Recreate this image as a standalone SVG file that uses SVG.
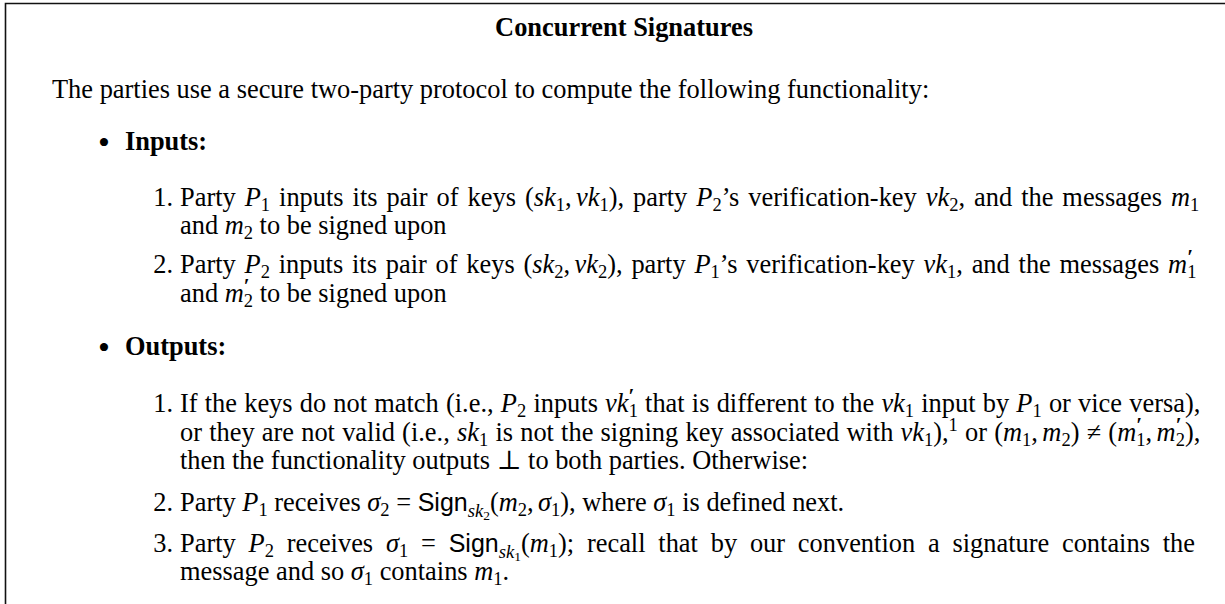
<svg xmlns="http://www.w3.org/2000/svg" width="1225" height="604" viewBox="0 0 1225 604">
  <style>
    text { font-family: "Liberation Serif", "DejaVu Serif", serif; font-size: 26.4px; fill: #000; }
    .b { font-weight: bold; }
    .i { font-style: italic; }
    .s { font-size: 18.5px; }
    .ss { font-size: 13.5px; }
    .pr { font-size: 21px; font-weight: bold; }
    .dot { font-size: 34px; }
    .sf { font-family: "Liberation Sans", "DejaVu Sans", sans-serif; font-size: 25px; }
    .frame { fill: none; stroke: #111; stroke-width: 1.6; }
  </style>
  <rect width="1225" height="604" fill="#fff"/>

  <!-- open frame: top rule and left rule only -->
  <path class="frame" d="M5.5,604 V3.5 H1225"/>

  <g id="title">
    <text class="b" x="624" y="36" text-anchor="middle">Concurrent Signatures</text>
  </g>

  <g id="intro">
    <text x="52" y="98">The parties use a secure two-party protocol to compute the following functionality:</text>
  </g>

  <g id="inputs">
    <text class="dot" x="104" y="154" text-anchor="middle">•</text>
    <text class="b" x="125" y="150">Inputs:</text>

    <text x="173" y="206" text-anchor="end">1.</text>
    <text x="180" y="206" word-spacing="2.4">Party <tspan class="i">P</tspan><tspan class="s" dy="5">1</tspan><tspan dy="-5"> inputs its pair of keys (</tspan><tspan class="i">sk</tspan><tspan class="s" dy="5">1</tspan><tspan dy="-5">,</tspan><tspan class="i" dx="4.4">vk</tspan><tspan class="s" dy="5">1</tspan><tspan dy="-5">), party </tspan><tspan class="i">P</tspan><tspan class="s" dy="5">2</tspan><tspan dy="-5">’s verification-key </tspan><tspan class="i">vk</tspan><tspan class="s" dy="5">2</tspan><tspan dy="-5">, and the messages </tspan><tspan class="i">m</tspan><tspan class="s" dy="5">1</tspan></text>
    <text x="180" y="234">and <tspan class="i">m</tspan><tspan class="s" dy="5">2</tspan><tspan dy="-5"> to be signed upon</tspan></text>

    <text x="173" y="273" text-anchor="end">2.</text>
    <text x="180" y="273" word-spacing="2.2">Party <tspan class="i">P</tspan><tspan class="s" dy="5">2</tspan><tspan dy="-5"> inputs its pair of keys (</tspan><tspan class="i">sk</tspan><tspan class="s" dy="5">2</tspan><tspan dy="-5">,</tspan><tspan class="i" dx="4.4">vk</tspan><tspan class="s" dy="5">2</tspan><tspan dy="-5">), party </tspan><tspan class="i">P</tspan><tspan class="s" dy="5">1</tspan><tspan dy="-5">’s verification-key </tspan><tspan class="i">vk</tspan><tspan class="s" dy="5">1</tspan><tspan dy="-5">, and the messages </tspan><tspan class="i">m</tspan><tspan class="pr" dy="-9">′</tspan><tspan class="s" dx="-5.8" dy="14">1</tspan></text>
    <text x="180" y="302">and <tspan class="i">m</tspan><tspan class="pr" dy="-9">′</tspan><tspan class="s" dx="-5.8" dy="14">2</tspan><tspan dy="-5"> to be signed upon</tspan></text>
  </g>

  <g id="outputs">
    <text class="dot" x="104" y="359" text-anchor="middle">•</text>
    <text class="b" x="125" y="355">Outputs:</text>

    <text x="173" y="412" text-anchor="end">1.</text>
    <text x="180" y="412" word-spacing="0.6">If the keys do not match (i.e., <tspan class="i">P</tspan><tspan class="s" dy="5">2</tspan><tspan dy="-5"> inputs </tspan><tspan class="i">vk</tspan><tspan class="pr" dy="-9">′</tspan><tspan class="s" dx="-5.8" dy="14">1</tspan><tspan dy="-5"> that is different to the </tspan><tspan class="i">vk</tspan><tspan class="s" dy="5">1</tspan><tspan dy="-5"> input by </tspan><tspan class="i">P</tspan><tspan class="s" dy="5">1</tspan><tspan dy="-5"> or vice versa),</tspan></text>
    <text x="180" y="441" word-spacing="0.6">or they are not valid (i.e., <tspan class="i">sk</tspan><tspan class="s" dy="5">1</tspan><tspan dy="-5"> is not the signing key associated with </tspan><tspan class="i">vk</tspan><tspan class="s" dy="5">1</tspan><tspan dy="-5">),</tspan><tspan class="s" dy="-10">1</tspan><tspan dy="10"> or (</tspan><tspan class="i">m</tspan><tspan class="s" dy="5">1</tspan><tspan dy="-5">,</tspan><tspan class="i" dx="4.4">m</tspan><tspan class="s" dy="5">2</tspan><tspan dy="-5">) ≠ (</tspan><tspan class="i">m</tspan><tspan class="pr" dy="-9">′</tspan><tspan class="s" dx="-5.8" dy="14">1</tspan><tspan dy="-5">,</tspan><tspan class="i" dx="4.4">m</tspan><tspan class="pr" dy="-9">′</tspan><tspan class="s" dx="-5.8" dy="14">2</tspan><tspan dy="-5">),</tspan></text>
    <text x="180" y="469">then the functionality outputs ⊥ to both parties. Otherwise:</text>

    <text x="173" y="511" text-anchor="end">2.</text>
    <text x="180" y="511">Party <tspan class="i">P</tspan><tspan class="s" dy="5">1</tspan><tspan dy="-5"> receives </tspan><tspan class="i">σ</tspan><tspan class="s" dy="5">2</tspan><tspan dy="-5"> = </tspan><tspan class="sf">Sign</tspan><tspan class="s i" dy="6">sk</tspan><tspan class="ss" dy="3">2</tspan><tspan dy="-9">(</tspan><tspan class="i">m</tspan><tspan class="s" dy="5">2</tspan><tspan dy="-5">,</tspan><tspan class="i" dx="4.4">σ</tspan><tspan class="s" dy="5">1</tspan><tspan dy="-5">), where </tspan><tspan class="i">σ</tspan><tspan class="s" dy="5">1</tspan><tspan dy="-5"> is defined next.</tspan></text>

    <text x="173" y="552" text-anchor="end">3.</text>
    <text x="180" y="552" word-spacing="6.2">Party <tspan class="i">P</tspan><tspan class="s" dy="5">2</tspan><tspan dy="-5"> receives </tspan><tspan class="i">σ</tspan><tspan class="s" dy="5">1</tspan><tspan dy="-5"> = </tspan><tspan class="sf">Sign</tspan><tspan class="s i" dy="6">sk</tspan><tspan class="ss" dy="3">1</tspan><tspan dy="-9">(</tspan><tspan class="i">m</tspan><tspan class="s" dy="5">1</tspan><tspan dy="-5">); recall that by our convention a signature contains the</tspan></text>
    <text x="180" y="580">message and so <tspan class="i">σ</tspan><tspan class="s" dy="5">1</tspan><tspan dy="-5"> contains </tspan><tspan class="i">m</tspan><tspan class="s" dy="5">1</tspan><tspan dy="-5">.</tspan></text>
  </g>
</svg>
